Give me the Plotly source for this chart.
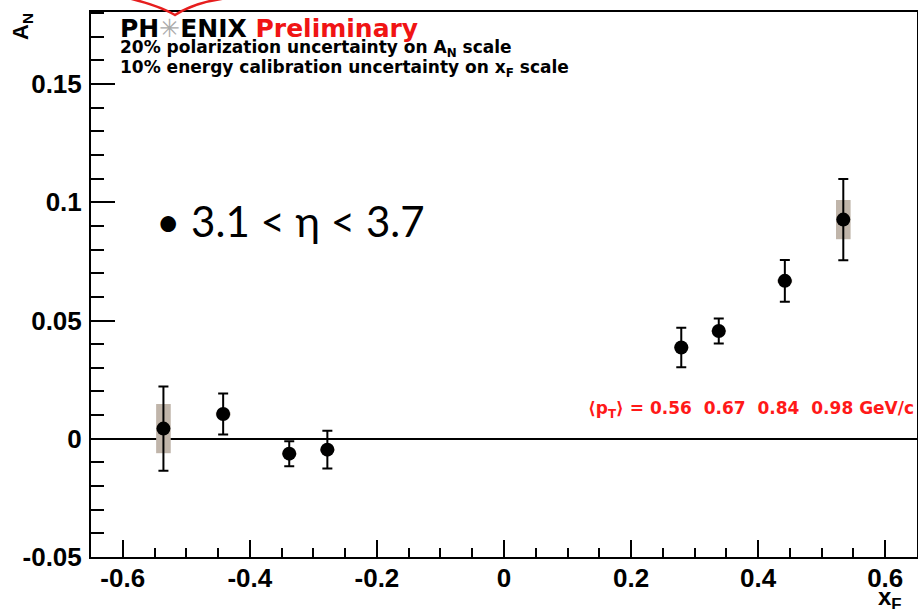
import plotly.graph_objects as go

# ---- data ----
xf = [-0.536, -0.442, -0.338, -0.278, 0.279, 0.338, 0.442, 0.534]
an = [0.0043, 0.0105, -0.0063, -0.0046, 0.0386, 0.0456, 0.0668, 0.0927]
stat_err = [0.0178, 0.0087, 0.0053, 0.0080, 0.0084, 0.0053, 0.0088, 0.0172]
sys_err = [0.0104, 0.0008, 0.0005, 0.0005, 0.0005, 0.0005, 0.0008, 0.0083]
pt_means = [0.56, 0.67, 0.84, 0.98]

x_ticks = [-0.6, -0.4, -0.2, 0, 0.2, 0.4, 0.6]
x_tick_labels = ["-0.6", "-0.4", "-0.2", "0", "0.2", "0.4", "0.6"]
y_ticks = [-0.05, 0, 0.05, 0.1, 0.15]
y_tick_labels = ["-0.05", "0", "0.05", "0.1", "0.15"]

ROOT_FONT = "Liberation Sans, Arial, sans-serif"
WIDE_FONT = "DejaVu Sans, Liberation Sans, sans-serif"

fig = go.Figure()

# systematic boxes
fig.add_trace(go.Bar(
    x=xf,
    y=[2 * s for s in sys_err],
    base=[a - s for a, s in zip(an, sys_err)],
    width=0.023,
    marker=dict(color="rgb(192,181,170)", line=dict(width=0)),
    showlegend=False,
    hoverinfo="skip",
))

# points with statistical errors
fig.add_trace(go.Scatter(
    x=xf, y=an, mode="markers",
    marker=dict(color="black", size=14),
    error_y=dict(type="data", array=stat_err, color="black", thickness=2, width=5),
    showlegend=False,
))

tickfont = dict(family=ROOT_FONT, size=26, color="black", weight="bold")

fig.update_xaxes(
    range=[-0.65, 0.65], automargin=False,
    tickmode="array", tickvals=x_ticks, ticktext=x_tick_labels,
    ticks="inside", ticklen=17, tickwidth=1.5, tickcolor="black",
    minor=dict(dtick=0.05, tick0=0, ticks="inside", ticklen=9, tickwidth=1.5, tickcolor="black", showgrid=False),
    showline=True, linecolor="black", linewidth=2, mirror=True,
    showgrid=False, zeroline=False,
    tickfont=tickfont, ticklabelstandoff=-3,
)
fig.update_yaxes(
    range=[-0.05, 0.1805], automargin=False,
    tickmode="array", tickvals=y_ticks, ticktext=y_tick_labels,
    ticks="inside", ticklen=24, tickwidth=1.5, tickcolor="black",
    minor=dict(dtick=0.01, tick0=0, ticks="inside", ticklen=13, tickwidth=1.5, tickcolor="black", showgrid=False),
    showline=True, linecolor="black", linewidth=2, mirror=True,
    showgrid=False, zeroline=True, zerolinecolor="black", zerolinewidth=1.5,
    tickfont=tickfont, ticklabelstandoff=2,
)

def px(X):
    return (X - 91) / 826.0

def py(Y):
    return (557 - Y) / 545.0

annotations = [
    dict(text="PH<span style='color:rgb(170,170,170)'>\u2733</span>ENIX <span style='color:rgb(240,20,20)'>Preliminary</span>",
         x=px(118), y=py(29), xanchor="left", yanchor="middle",
         font=dict(family=WIDE_FONT, size=25, color="black", weight="bold")),
    dict(text="20% polarization uncertainty on A<sub>N</sub> scale",
         x=px(118), y=py(48), xanchor="left", yanchor="middle",
         font=dict(family=WIDE_FONT, size=17, color="black", weight="bold")),
    dict(text="10% energy calibration uncertainty on x<sub>F</sub> scale",
         x=px(118), y=py(68), xanchor="left", yanchor="middle",
         font=dict(family=WIDE_FONT, size=17, color="black", weight="bold")),
    dict(text="\u27e8p<sub>T</sub>\u27e9 = " + "\u00a0\u00a0".join(f"{v:.2f}" for v in pt_means) + " GeV/c",
         x=px(586), y=py(410), xanchor="left", yanchor="middle",
         font=dict(family=WIDE_FONT, size=17, color="rgb(255,25,25)", weight="bold")),
    dict(text="\u2022 3.1 < \u03b7 < 3.7",
         x=px(154), y=py(221), xanchor="left", yanchor="middle",
         font=dict(family="Lato, Noto Sans, sans-serif", size=42, color="black")),
    dict(text="A<sub>N</sub>", textangle=-90,
         x=px(22), y=py(27), xanchor="center", yanchor="middle",
         font=dict(family=ROOT_FONT, size=22, color="black", weight="bold")),
    dict(text="x<sub>F</sub>",
         x=px(890), y=py(598), xanchor="center", yanchor="middle",
         font=dict(family=ROOT_FONT, size=24, color="black", weight="bold")),
]
for a in annotations:
    a.update(xref="paper", yref="paper", showarrow=False)

fig.update_layout(
    width=918, height=609,
    margin=dict(l=91, r=1, t=12, b=52, autoexpand=False),
    paper_bgcolor="white", plot_bgcolor="white",
    annotations=annotations,
    shapes=[dict(type="path", xref="paper", yref="paper",
                 path=f"M {px(128)},{py(-2)} Q {px(160)},{py(6)} {px(175)},{py(15)} Q {px(195)},{py(2)} {px(228)},{py(-2)}",
                 line=dict(color="rgb(230,30,30)", width=2.5))],
)

fig.write_html("out.html", config={"displayModeBar": False},
               post_script="document.body.style.margin='0';document.body.style.padding='0';")
